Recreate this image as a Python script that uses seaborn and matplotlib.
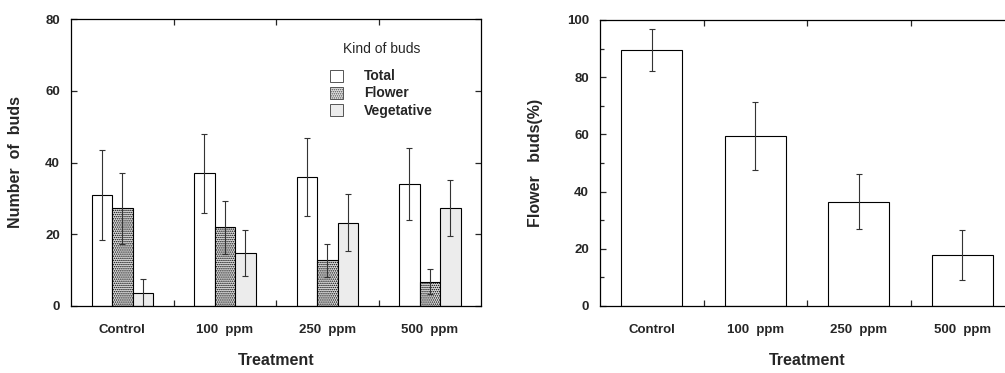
import matplotlib
matplotlib.use("Agg")
import matplotlib.pyplot as plt
from matplotlib.patches import Patch
from matplotlib.ticker import MultipleLocator, FixedLocator
import seaborn as sns
import pandas as pd
import numpy as np

# ---------------- data ----------------
treatments = ["Control", "100  ppm", "250  ppm", "500  ppm"]
kinds = ["Total", "Flower", "Vegetative"]
total_mean = [31, 37, 36, 34]
total_err = [12.5, 11, 10.8, 10]
flower_mean = [27.2, 21.9, 12.7, 6.8]
flower_err = [9.8, 7.5, 4.5, 3.5]
veg_mean = [3.5, 14.8, 23.2, 27.2]
veg_err = [3.9, 6.5, 8.0, 7.8]

pct_mean = [89.5, 59.5, 36.5, 17.9]
pct_err = [7.5, 11.9, 9.5, 8.7]

# ---------------- style ----------------
sns.set_theme(style="ticks")
plt.rcParams["font.family"] = ["Liberation Sans", "DejaVu Sans"]
plt.rcParams["hatch.linewidth"] = 0.7
plt.rcParams["axes.linewidth"] = 0.9

fig = plt.figure(figsize=(10.05, 3.73), dpi=100)
axL = fig.add_axes([71 / 1005, 1 - 306 / 373, 410 / 1005, 287 / 373])
axR = fig.add_axes([600 / 1005, 1 - 306 / 373, 414 / 1005, 286 / 373])

# ---------------- left panel ----------------
df = pd.DataFrame({
    "Treatment": treatments * 3,
    "Kind": [k for k in kinds for _ in treatments],
    "Value": total_mean + flower_mean + veg_mean,
})
errs = {"Total": total_err, "Flower": flower_err, "Vegetative": veg_err}
means = {"Total": total_mean, "Flower": flower_mean, "Vegetative": veg_mean}
fills = {"Total": "white", "Flower": "#e0e0e0", "Vegetative": "#ececec"}
hatches = {"Total": None, "Flower": "........", "Vegetative": None}

sns.barplot(data=df, x="Treatment", y="Value", hue="Kind", hue_order=kinds,
            order=treatments, palette=fills, width=0.6, errorbar=None,
            edgecolor="black", linewidth=0.8, saturation=1, legend=False, ax=axL)

for kind, cont in zip(kinds, axL.containers):
    xs = []
    for bar in cont:
        if hatches[kind]:
            bar.set_hatch(hatches[kind])
        xs.append(bar.get_x() + bar.get_width() / 2)
    axL.errorbar(xs, means[kind], yerr=errs[kind], fmt="none",
                 ecolor="#333333", elinewidth=0.8, capsize=2.5, capthick=0.8)

axL.set_xlim(-0.5, 3.5)
axL.set_ylim(0, 80)
axL.yaxis.set_major_locator(MultipleLocator(20))

handles = [Patch(facecolor=fills[k], edgecolor="#555555", hatch=hatches[k], linewidth=0.7)
           for k in kinds]
leg = axL.legend(handles, kinds, title="Kind of buds", frameon=False,
                 loc="upper left", bbox_to_anchor=(0.60, 0.965),
                 handlelength=1.0, handleheight=0.95, handletextpad=1.5,
                 labelspacing=0.22, prop={"weight": "bold", "size": 10},
                 title_fontproperties={"size": 10})
leg._legend_box.sep = 10

# ---------------- right panel ----------------
dfr = pd.DataFrame({"Treatment": treatments, "Pct": pct_mean})
sns.barplot(data=dfr, x="Treatment", y="Pct", order=treatments, color="white",
            width=0.59, errorbar=None, edgecolor="black", linewidth=0.8,
            saturation=1, ax=axR)
xs = [b.get_x() + b.get_width() / 2 for b in axR.containers[0]]
axR.errorbar(xs, pct_mean, yerr=pct_err, fmt="none", ecolor="#333333",
             elinewidth=0.8, capsize=2.5, capthick=0.8)
axR.set_xlim(-0.5, 3.5)
axR.set_ylim(0, 100)
axR.yaxis.set_major_locator(MultipleLocator(20))
axR.yaxis.set_minor_locator(MultipleLocator(10))

# ---------------- common axes styling ----------------
for ax, ylab in [(axL, "Number  of  buds"), (axR, "Flower   buds(%)")]:
    for s in ax.spines.values():
        s.set_visible(True)
        s.set_color("black")
    ax.set_ylabel(ylab, fontsize=11.5, fontweight="bold")
    ax.set_xlabel("Treatment", fontsize=11.5, fontweight="bold", labelpad=12)
    ax.yaxis.set_label_coords(-0.117 if ax is axL else -0.138, 0.5)
    ax.xaxis.set_minor_locator(FixedLocator([0.5, 1.5, 2.5]))
    ax.tick_params(axis="x", which="major", length=0, pad=13, labelsize=9.5)
    ax.tick_params(axis="x", which="minor", direction="in", length=4,
                   top=True, bottom=True, width=0.9)
    ax.tick_params(axis="y", which="both", direction="in", left=True,
                   right=True, labelsize=9.5, pad=8, width=0.9)
    ax.tick_params(axis="y", which="major", length=4)
    ax.tick_params(axis="y", which="minor", length=3)
    for lab in ax.get_xticklabels() + ax.get_yticklabels():
        lab.set_fontweight("bold")

fig.savefig("out.png", dpi=100)
